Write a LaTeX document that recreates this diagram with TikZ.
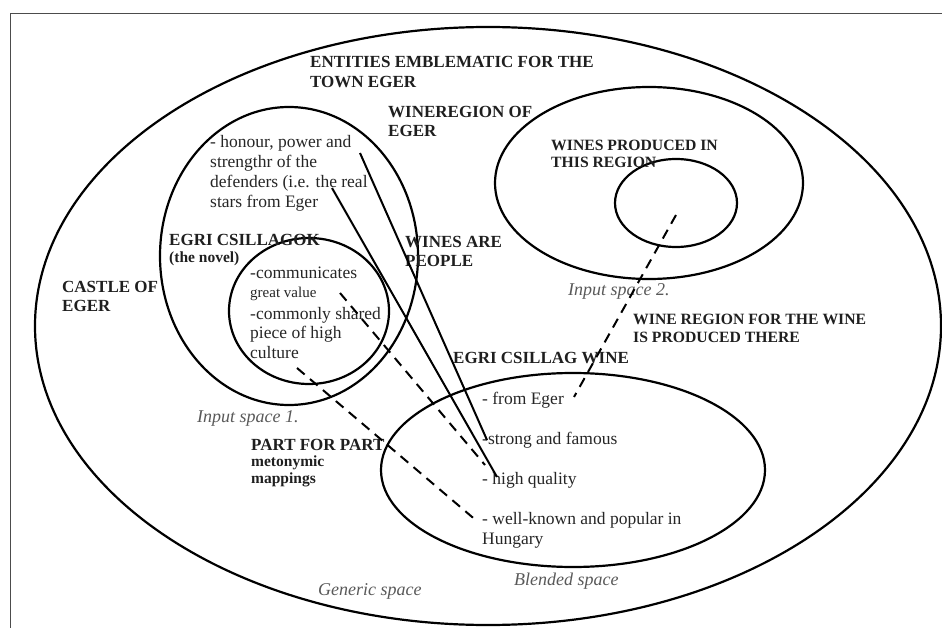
\documentclass[tikz,border=0pt]{standalone}
\usepackage{fontspec}
\setmainfont{Liberation Serif}
\begin{document}
\begin{tikzpicture}[x=1pt,y=-1pt,
  ring/.style={line width=2.2pt,black},
  link/.style={line width=2pt,black},
  dlink/.style={line width=2pt,black,dash pattern=on 10pt off 7pt},
  caps/.style={font=\bfseries\fontsize{17}{19.5}\selectfont,text=black!88,anchor=base west,inner sep=0pt,align=left},
  capss/.style={font=\bfseries\fontsize{15.7}{17.5}\selectfont,text=black!88,anchor=base west,inner sep=0pt,align=left},
  small/.style={font=\bfseries\fontsize{15.5}{16.5}\selectfont,text=black!88,anchor=base west,inner sep=0pt,align=left},
  body/.style={font=\fontsize{17.5}{20}\selectfont,text=black!85,anchor=base west,inner sep=0pt,align=left},
  lab/.style={font=\itshape\fontsize{18}{20}\selectfont,text=black!65,anchor=base west,inner sep=0pt}]
\useasboundingbox (0,0) rectangle (942,628);
% frame
\draw[black!70,line width=0.8pt] (10.5,628) -- (10.5,13) -- (942,13);
% spaces
\draw[ring] (488,326) ellipse [x radius=453, y radius=299];
\draw[ring] (289,256) ellipse [x radius=129, y radius=149];
\draw[ring] (309,311) ellipse [x radius=80, y radius=73];
\draw[ring] (649,183) ellipse [x radius=154, y radius=96];
\draw[ring] (676,203) ellipse [x radius=61, y radius=44];
\draw[ring] (573,470) ellipse [x radius=192, y radius=97];
% texts (multi-line nodes are placed at the baseline of their last line)
\node[caps] (ent) at (310,87.5) {ENTITIES EMBLEMATIC FOR THE\\TOWN EGER};
\node[caps] (wreg) at (388,137) {WINEREGION OF\\EGER};
\node[capss] (wprod) at (551,168) {WINES PRODUCED IN\\THIS REGION};
\node[body] (hon) at (210,208) {- honour, power and\\strengthr of the\\defenders (i.e. the real\\stars from Eger};
\node[caps] (egri) at (169,246) {EGRI CSILLAGOK};
\node[small] (novel) at (169,263) {(the novel)};
\node[caps] (castle) at (62,312) {CASTLE OF\\EGER};
\node[caps] (wap) at (405,267) {WINES ARE\\PEOPLE};
\node[body] (comm) at (250,279) {-communicates};
\node[body,font=\fontsize{15}{20}\selectfont] (great) at (250,298) {great value};
\node[body,font=\fontsize{17.5}{19.5}\selectfont] (shared) at (250,358) {-commonly shared\\piece of high\\culture};
\node[lab] (in1) at (197,422) {Input space 1.};
\node[lab] (in2) at (568,295) {Input space 2.};
\node[caps] (pfp) at (251,450) {PART FOR PART};
\node[small] (meto) at (251,483) {metonymic\\mappings};
\node[capss,font=\bfseries\fontsize{15.7}{18}\selectfont] (wrw) at (633,342) {WINE REGION FOR THE WINE\\IS PRODUCED THERE};
\node[caps] (ecw) at (453,363) {EGRI CSILLAG WINE};
\node[body] (fe) at (482,404) {- from Eger};
\node[body] (sf) at (482,444) {-strong and famous};
\node[body] (hq) at (482,484) {- high quality};
\node[body] (wk) at (482,544) {- well-known and popular in\\Hungary};
\node[lab] (gen) at (318,595) {Generic space};
\node[lab] (bl) at (514,585) {Blended space};
% connector ends
\coordinate (a1) at (360,153); \coordinate (a2) at (487,440);
\coordinate (b1) at (332,188); \coordinate (b2) at (497,477);
\coordinate (c1) at (340,293); \coordinate (c2) at (485,465);
\coordinate (d1) at (297,368); \coordinate (d2) at (478,522);
\coordinate (e1) at (676,215); \coordinate (e2) at (574,397);
\draw[link] (a1) -- (a2);
\draw[link] (b1) -- (b2);
\draw[dlink] (c1) -- (c2);
\draw[dlink] (d1) -- (d2);
\draw[dlink] (e1) -- (e2);
\end{tikzpicture}
\end{document}
